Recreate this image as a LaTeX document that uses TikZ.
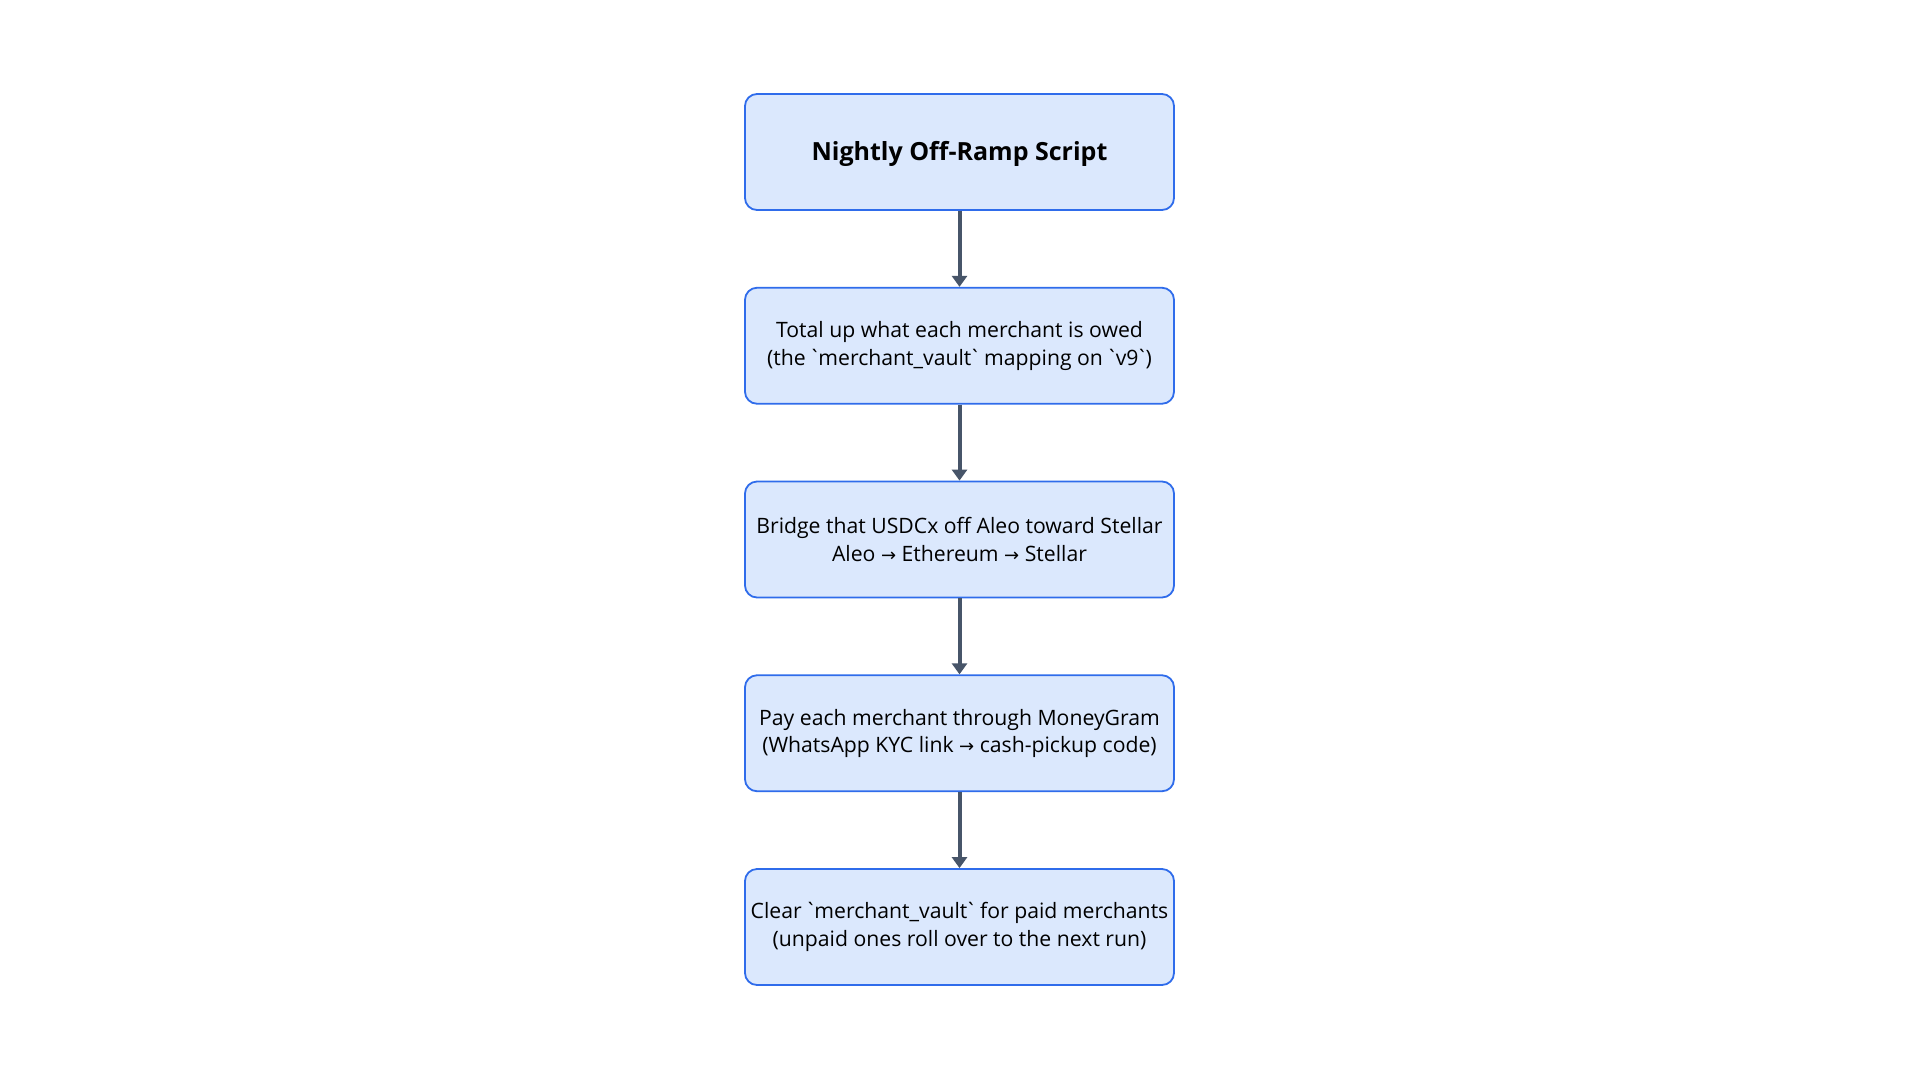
\documentclass[tikz,border=0pt]{standalone}
\usepackage{fontspec}
\setmainfont{Open Sans}[Ligatures=TeXOff]
\newfontfamily\arrowfont{DejaVu Sans}
\usepackage{tikz}
\usetikzlibrary{positioning,arrows.meta}
\definecolor{StepFill}{HTML}{DBE8FD}
\definecolor{StepLine}{HTML}{2F6CEB}
\definecolor{FlowArrow}{HTML}{475569}
\newcommand{\bq}{{\kern-2.5pt\char"60\kern-2.5pt}}
\newcommand{\ra}{{\arrowfont\fontsize{18}{20}\selectfont\char"2192}}

\begin{document}
\begin{tikzpicture}[>={Triangle[length=11pt,width=15pt]},node distance=75.95pt and 0pt]
  \tikzstyle{stepbox}=[draw=StepLine,fill=StepFill,line width=1.8pt,rounded corners=12pt,
    minimum width=429pt,minimum height=116pt,align=center,inner sep=0pt,
    font=\fontsize{21.2}{27.5}\selectfont]
  \useasboundingbox[fill=white] (0,0) rectangle (1920pt,-1080pt);
  \node[stepbox,font=\fontsize{25}{30}\selectfont\bfseries,text depth=2pt] (title) at (959.5pt,-152pt) {Nightly Off-Ramp Script};
  \node[stepbox,below=of title] (total) {Total up what each merchant is owed\\(the \bq merchant\_vault\bq{} mapping on \bq v9\bq)};
  \node[stepbox,below=of total] (bridge) {Bridge that USDCx off Aleo toward Stellar\\Aleo \ra{} Ethereum \ra{} Stellar};
  \node[stepbox,below=of bridge] (pay) {Pay each merchant through MoneyGram\\(WhatsApp KYC link \ra{} cash-pickup code)};
  \node[stepbox,below=of pay] (clear) {Clear \bq merchant\_vault\bq{} for paid merchants\\(unpaid ones roll over to the next run)};
  \draw[->,color=FlowArrow,line width=4pt] (title)--(total);
  \draw[->,color=FlowArrow,line width=4pt] (total)--(bridge);
  \draw[->,color=FlowArrow,line width=4pt] (bridge)--(pay);
  \draw[->,color=FlowArrow,line width=4pt] (pay)--(clear);
\end{tikzpicture}
\end{document}
